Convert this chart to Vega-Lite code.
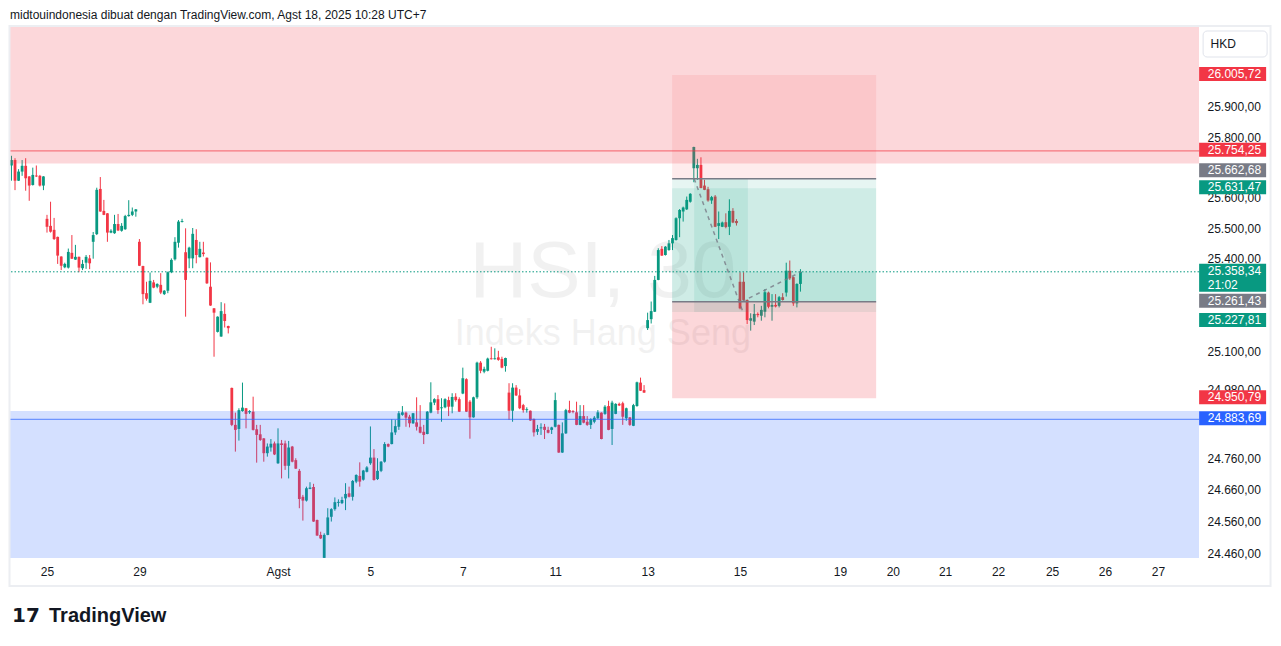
{
  "$schema": "https://vega.github.io/schema/vega-lite/v6.json",
  "width": 1189,
  "height": 531,
  "autosize": {"type": "none"},
  "padding": {"left": 10, "top": 27, "right": 82, "bottom": 88},
  "background": "#ffffff",
  "config": {
    "view": {"stroke": null},
    "font": "Liberation Sans",
    "axis": {"domain": false, "ticks": false, "grid": false, "labelFont": "Liberation Sans", "labelFontSize": 12, "labelColor": "#131722"},
    "locale": {"number": {"decimal": ",", "thousands": ".", "grouping": [3], "currency": ["", ""]}}
  },
  "resolve": {"scale": {"color": "independent", "fill": "independent"}},
  "datasets": {
    "candles": [
      {"t":-10,"o":25706,"h":25738,"l":25656,"c":25724},{"t":-9,"o":25724,"h":25730,"l":25625,"c":25656},{"t":-8,"o":25656,"h":25694,"l":25655,"c":25686},{"t":-7,"o":25686,"h":25724,"l":25672,"c":25705},{"t":-6,"o":25705,"h":25730,"l":25623,"c":25664},{"t":-5,"o":25670,"h":25671,"l":25590,"c":25640},{"t":-4,"o":25642,"h":25699,"l":25640,"c":25675},{"t":-3,"o":25673,"h":25706,"l":25668,"c":25670},{"t":-2,"o":25672,"h":25675,"l":25637,"c":25640},{"t":-1,"o":25640,"h":25671,"l":25625,"c":25670},
      {"t":0,"o":25531,"h":25544,"l":25486,"c":25505},{"t":1,"o":25508,"h":25587,"l":25486,"c":25489},{"t":2,"o":25495,"h":25534,"l":25462,"c":25465},{"t":3,"o":25472,"h":25473,"l":25384,"c":25411},{"t":4,"o":25408,"h":25409,"l":25364,"c":25378},{"t":5,"o":25373,"h":25388,"l":25370,"c":25384},{"t":6,"o":25372,"h":25434,"l":25369,"c":25423},{"t":7,"o":25420,"h":25478,"l":25400,"c":25401},{"t":8,"o":25398,"h":25446,"l":25397,"c":25407},{"t":9,"o":25407,"h":25408,"l":25357,"c":25372},{"t":10,"o":25370,"h":25397,"l":25364,"c":25384},{"t":11,"o":25388,"h":25413,"l":25368,"c":25407},{"t":12,"o":25402,"h":25413,"l":25367,"c":25386},
      {"t":13,"o":25456,"h":25488,"l":25401,"c":25478},{"t":14,"o":25481,"h":25633,"l":25478,"c":25626},{"t":15,"o":25629,"h":25668,"l":25554,"c":25555},{"t":16,"o":25557,"h":25593,"l":25543,"c":25544},{"t":17,"o":25549,"h":25550,"l":25456,"c":25486},{"t":18,"o":25486,"h":25497,"l":25484,"c":25492},{"t":19,"o":25484,"h":25544,"l":25482,"c":25514},{"t":20,"o":25514,"h":25547,"l":25491,"c":25493},{"t":21,"o":25492,"h":25517,"l":25489,"c":25508},{"t":22,"o":25497,"h":25544,"l":25495,"c":25540},{"t":23,"o":25540,"h":25592,"l":25538,"c":25544},{"t":24,"o":25544,"h":25568,"l":25540,"c":25555},{"t":25,"o":25555,"h":25563,"l":25538,"c":25562},
      {"t":26,"o":25456,"h":25465,"l":25377,"c":25378},{"t":27,"o":25377,"h":25378,"l":25253,"c":25286},{"t":28,"o":25289,"h":25326,"l":25265,"c":25271},{"t":29,"o":25258,"h":25356,"l":25257,"c":25329},{"t":30,"o":25324,"h":25332,"l":25305,"c":25307},{"t":31,"o":25310,"h":25321,"l":25305,"c":25319},{"t":32,"o":25316,"h":25354,"l":25286,"c":25291},{"t":33,"o":25286,"h":25299,"l":25283,"c":25297},{"t":34,"o":25297,"h":25359,"l":25289,"c":25357},{"t":35,"o":25357,"h":25402,"l":25354,"c":25397},{"t":36,"o":25399,"h":25471,"l":25395,"c":25456},{"t":37,"o":25453,"h":25527,"l":25437,"c":25522},{"t":38,"o":25521,"h":25531,"l":25519,"c":25524},
      {"t":39,"o":25422,"h":25500,"l":25213,"c":25332},{"t":40,"o":25402,"h":25440,"l":25370,"c":25437},{"t":41,"o":25402,"h":25501,"l":25370,"c":25482},{"t":42,"o":25462,"h":25497,"l":25386,"c":25413},{"t":43,"o":25406,"h":25456,"l":25405,"c":25433},{"t":44,"o":25421,"h":25456,"l":25408,"c":25416},{"t":45,"o":25404,"h":25405,"l":25319,"c":25321},{"t":46,"o":25310,"h":25389,"l":25248,"c":25249},{"t":47,"o":25240,"h":25241,"l":25084,"c":25226},{"t":48,"o":25164,"h":25214,"l":25162,"c":25213},{"t":49,"o":25149,"h":25260,"l":25148,"c":25231},{"t":50,"o":25222,"h":25256,"l":25178,"c":25199},{"t":51,"o":25183,"h":25184,"l":25159,"c":25176},
      {"t":52,"o":24984,"h":24985,"l":24862,"c":24866},{"t":53,"o":24866,"h":24905,"l":24781,"c":24850},{"t":54,"o":24853,"h":24919,"l":24816,"c":24913},{"t":55,"o":24910,"h":25001,"l":24908,"c":24921},{"t":56,"o":24919,"h":24920,"l":24855,"c":24901},{"t":57,"o":24906,"h":24913,"l":24901,"c":24910},{"t":58,"o":24908,"h":24956,"l":24848,"c":24850},{"t":59,"o":24852,"h":24866,"l":24746,"c":24834},{"t":60,"o":24836,"h":24866,"l":24815,"c":24818},{"t":61,"o":24823,"h":24824,"l":24749,"c":24776},{"t":62,"o":24776,"h":24807,"l":24765,"c":24797},{"t":63,"o":24794,"h":24821,"l":24781,"c":24806},{"t":64,"o":24807,"h":24813,"l":24770,"c":24772},
      {"t":65,"o":24744,"h":24855,"l":24742,"c":24807},{"t":66,"o":24807,"h":24818,"l":24696,"c":24802},{"t":67,"o":24807,"h":24816,"l":24723,"c":24736},{"t":68,"o":24736,"h":24815,"l":24696,"c":24794},{"t":69,"o":24797,"h":24799,"l":24747,"c":24749},{"t":70,"o":24754,"h":24760,"l":24726,"c":24727},{"t":71,"o":24720,"h":24726,"l":24602,"c":24631},{"t":72,"o":24638,"h":24644,"l":24563,"c":24626},{"t":73,"o":24626,"h":24670,"l":24623,"c":24665},{"t":74,"o":24663,"h":24684,"l":24662,"c":24667},{"t":75,"o":24669,"h":24679,"l":24559,"c":24560},{"t":76,"o":24565,"h":24566,"l":24515,"c":24516},{"t":77,"o":24518,"h":24528,"l":24505,"c":24507},
      {"t":78,"o":24446,"h":24523,"l":24446,"c":24518},{"t":79,"o":24518,"h":24602,"l":24517,"c":24573},{"t":80,"o":24575,"h":24602,"l":24560,"c":24599},{"t":81,"o":24599,"h":24636,"l":24594,"c":24621},{"t":82,"o":24619,"h":24630,"l":24607,"c":24622},{"t":83,"o":24618,"h":24638,"l":24615,"c":24628},{"t":84,"o":24633,"h":24681,"l":24596,"c":24647},{"t":85,"o":24649,"h":24670,"l":24636,"c":24638},{"t":86,"o":24638,"h":24691,"l":24626,"c":24688},{"t":87,"o":24686,"h":24709,"l":24681,"c":24707},{"t":88,"o":24704,"h":24747,"l":24670,"c":24686},{"t":89,"o":24692,"h":24723,"l":24689,"c":24721},{"t":90,"o":24717,"h":24735,"l":24715,"c":24731},
      {"t":91,"o":24744,"h":24861,"l":24739,"c":24762},{"t":92,"o":24762,"h":24789,"l":24689,"c":24691},{"t":93,"o":24694,"h":24760,"l":24691,"c":24720},{"t":94,"o":24720,"h":24751,"l":24716,"c":24749},{"t":95,"o":24749,"h":24811,"l":24746,"c":24805},{"t":96,"o":24805,"h":24807,"l":24795,"c":24797},{"t":97,"o":24805,"h":24884,"l":24804,"c":24842},{"t":98,"o":24842,"h":24882,"l":24834,"c":24862},{"t":99,"o":24860,"h":24910,"l":24850,"c":24903},{"t":100,"o":24898,"h":24926,"l":24895,"c":24906},{"t":101,"o":24905,"h":24908,"l":24860,"c":24889},{"t":102,"o":24892,"h":24898,"l":24858,"c":24871},{"t":103,"o":24871,"h":24904,"l":24869,"c":24903},
      {"t":104,"o":24874,"h":24954,"l":24848,"c":24860},{"t":105,"o":24860,"h":24929,"l":24839,"c":24841},{"t":106,"o":24844,"h":24866,"l":24805,"c":24834},{"t":107,"o":24837,"h":24910,"l":24836,"c":24908},{"t":108,"o":24905,"h":25002,"l":24903,"c":24938},{"t":109,"o":24937,"h":24951,"l":24929,"c":24948},{"t":110,"o":24948,"h":24961,"l":24901,"c":24913},{"t":111,"o":24919,"h":24951,"l":24876,"c":24922},{"t":112,"o":24922,"h":24951,"l":24919,"c":24948},{"t":113,"o":24945,"h":24956,"l":24894,"c":24924},{"t":114,"o":24924,"h":24967,"l":24903,"c":24955},{"t":115,"o":24956,"h":24967,"l":24940,"c":24945},{"t":116,"o":24948,"h":24954,"l":24907,"c":24908},
      {"t":117,"o":24966,"h":25049,"l":24964,"c":25015},{"t":118,"o":25012,"h":25015,"l":24907,"c":24908},{"t":119,"o":24940,"h":24945,"l":24822,"c":24890},{"t":120,"o":24890,"h":24956,"l":24889,"c":24954},{"t":121,"o":24954,"h":25068,"l":24949,"c":25065},{"t":122,"o":25065,"h":25070,"l":25031,"c":25039},{"t":123,"o":25036,"h":25052,"l":25031,"c":25045},{"t":124,"o":25039,"h":25081,"l":25037,"c":25078},{"t":125,"o":25079,"h":25116,"l":25075,"c":25076},{"t":126,"o":25076,"h":25111,"l":25075,"c":25079},{"t":127,"o":25082,"h":25103,"l":25071,"c":25074},{"t":128,"o":25077,"h":25084,"l":25047,"c":25049},{"t":129,"o":25054,"h":25081,"l":25036,"c":25080},
      {"t":130,"o":24969,"h":24999,"l":24882,"c":24911},{"t":131,"o":24911,"h":24999,"l":24876,"c":24985},{"t":132,"o":24985,"h":24993,"l":24958,"c":24960},{"t":133,"o":24960,"h":24980,"l":24916,"c":24919},{"t":134,"o":24929,"h":24933,"l":24905,"c":24913},{"t":135,"o":24913,"h":24922,"l":24905,"c":24916},{"t":136,"o":24911,"h":24912,"l":24879,"c":24880},{"t":137,"o":24885,"h":24886,"l":24829,"c":24842},{"t":138,"o":24844,"h":24866,"l":24834,"c":24853},{"t":139,"o":24855,"h":24871,"l":24834,"c":24858},{"t":140,"o":24860,"h":24869,"l":24821,"c":24850},{"t":141,"o":24850,"h":24860,"l":24839,"c":24841},{"t":142,"o":24850,"h":24860,"l":24837,"c":24858},
      {"t":143,"o":24860,"h":24969,"l":24858,"c":24945},{"t":144,"o":24866,"h":24867,"l":24777,"c":24778},{"t":145,"o":24778,"h":24874,"l":24777,"c":24839},{"t":146,"o":24839,"h":24917,"l":24837,"c":24913},{"t":147,"o":24913,"h":24943,"l":24903,"c":24905},{"t":148,"o":24910,"h":24913,"l":24903,"c":24907},{"t":149,"o":24906,"h":24940,"l":24865,"c":24866},{"t":150,"o":24866,"h":24929,"l":24865,"c":24894},{"t":151,"o":24894,"h":24929,"l":24871,"c":24873},{"t":152,"o":24876,"h":24894,"l":24863,"c":24866},{"t":153,"o":24866,"h":24887,"l":24853,"c":24884},{"t":154,"o":24876,"h":24894,"l":24871,"c":24889},{"t":155,"o":24887,"h":24913,"l":24885,"c":24906},
      {"t":156,"o":24905,"h":24906,"l":24820,"c":24821},{"t":157,"o":24901,"h":24929,"l":24898,"c":24924},{"t":158,"o":24926,"h":24943,"l":24849,"c":24850},{"t":159,"o":24853,"h":24943,"l":24802,"c":24937},{"t":160,"o":24901,"h":24935,"l":24900,"c":24933},{"t":161,"o":24933,"h":24937,"l":24926,"c":24928},{"t":162,"o":24935,"h":24940,"l":24866,"c":24892},{"t":163,"o":24887,"h":24921,"l":24879,"c":24919},{"t":164,"o":24890,"h":24891,"l":24863,"c":24866},{"t":165,"o":24863,"h":24933,"l":24862,"c":24929},{"t":166,"o":24926,"h":25004,"l":24924,"c":25002},{"t":167,"o":25001,"h":25017,"l":24974,"c":24975},{"t":168,"o":24977,"h":24993,"l":24968,"c":24969},
      {"t":169,"o":25176,"h":25226,"l":25170,"c":25202},{"t":170,"o":25205,"h":25262,"l":25191,"c":25231},{"t":171,"o":25229,"h":25345,"l":25228,"c":25332},{"t":172,"o":25332,"h":25435,"l":25331,"c":25429},{"t":173,"o":25433,"h":25442,"l":25410,"c":25411},{"t":174,"o":25413,"h":25442,"l":25411,"c":25440},{"t":175,"o":25429,"h":25462,"l":25427,"c":25451},{"t":176,"o":25451,"h":25478,"l":25429,"c":25468},{"t":177,"o":25462,"h":25536,"l":25460,"c":25533},{"t":178,"o":25533,"h":25563,"l":25471,"c":25560},{"t":179,"o":25555,"h":25571,"l":25522,"c":25568},{"t":180,"o":25562,"h":25604,"l":25560,"c":25593},{"t":181,"o":25587,"h":25615,"l":25584,"c":25613},
      {"t":182,"o":25697,"h":25768,"l":25651,"c":25767},{"t":183,"o":25697,"h":25728,"l":25659,"c":25708},{"t":184,"o":25708,"h":25733,"l":25631,"c":25632},{"t":185,"o":25640,"h":25659,"l":25625,"c":25626},{"t":186,"o":25628,"h":25636,"l":25587,"c":25591},{"t":187,"o":25591,"h":25606,"l":25580,"c":25602},{"t":188,"o":25604,"h":25609,"l":25504,"c":25505},{"t":189,"o":25508,"h":25555,"l":25465,"c":25517},{"t":190,"o":25505,"h":25522,"l":25504,"c":25519},{"t":191,"o":25520,"h":25549,"l":25500,"c":25504},{"t":192,"o":25505,"h":25595,"l":25478,"c":25557},{"t":193,"o":25557,"h":25566,"l":25517,"c":25519},{"t":194,"o":25524,"h":25530,"l":25509,"c":25517},
      {"t":195,"o":25326,"h":25357,"l":25237,"c":25240},{"t":196,"o":25326,"h":25357,"l":25265,"c":25267},{"t":197,"o":25267,"h":25269,"l":25189,"c":25202},{"t":198,"o":25200,"h":25224,"l":25168,"c":25208},{"t":199,"o":25197,"h":25254,"l":25186,"c":25222},{"t":200,"o":25222,"h":25227,"l":25211,"c":25218},{"t":201,"o":25216,"h":25248,"l":25200,"c":25235},{"t":202,"o":25229,"h":25302,"l":25211,"c":25292},{"t":203,"o":25291,"h":25294,"l":25240,"c":25245},{"t":204,"o":25245,"h":25286,"l":25200,"c":25251},{"t":205,"o":25251,"h":25286,"l":25243,"c":25246},{"t":206,"o":25248,"h":25280,"l":25243,"c":25276},{"t":207,"o":25276,"h":25289,"l":25265,"c":25267},
      {"t":208,"o":25291,"h":25388,"l":25278,"c":25362},{"t":209,"o":25362,"h":25395,"l":25332,"c":25337},{"t":210,"o":25341,"h":25343,"l":25248,"c":25256},{"t":211,"o":25256,"h":25321,"l":25243,"c":25319},{"t":212,"o":25319,"h":25367,"l":25294,"c":25358.34}
    ],
    "zones": [
      {"k": "resistance", "p1": 26166.1, "p2": 25712.2},
      {"k": "support", "p1": 24910.2, "p2": 24445.6}
    ],
    "levels": [
      {"k": "resistance", "p": 25754.25},
      {"k": "support", "p": 24883.69}
    ],
    "position": [
      {"k": "A stop", "t1": 175.9, "t2": 233.3, "p1": 26005.72, "p2": 25662.68},
      {"k": "A target", "t1": 175.9, "t2": 233.3, "p1": 25662.68, "p2": 25227.81},
      {"k": "B target", "t1": 175.9, "t2": 233.3, "p1": 25631.47, "p2": 25261.43},
      {"k": "A run", "t1": 182.1, "t2": 197.2, "p1": 25662.68, "p2": 25227.81},
      {"k": "B run", "t1": 197.2, "t2": 233.3, "p1": 25358.34, "p2": 25261.43}
    ],
    "positionStop": [
      {"k": "B stop", "t1": 175.9, "t2": 233.3, "p1": 25261.43, "p2": 24950.79}
    ],
    "entries": [
      {"t1": 175.9, "t2": 233.3, "p": 25662.68},
      {"t1": 175.9, "t2": 233.3, "p": 25261.43}
    ],
    "paths": [
      {"g": "A", "t": 182.1, "p": 25662.68},
      {"g": "A", "t": 195.7, "p": 25232},
      {"g": "B", "t": 195.5, "p": 25261.43},
      {"g": "B", "t": 212.2, "p": 25358.34}
    ],
    "tags": [
      {"p": 26005.72, "k": "stop"},
      {"p": 25754.25, "k": "level"},
      {"p": 25631.47, "k": "target"},
      {"p": 25261.43, "k": "entry"},
      {"p": 24950.79, "k": "stop"},
      {"p": 24883.69, "k": "support"}
    ],
    "tagUp": [{"p": 25662.68, "k": "entry"}],
    "tagDown": [{"p": 25227.81, "k": "target"}],
    "last": [{"p": 25358.34, "time": "21:02"}]
  },
  "layer": [
    {
      "data": {"values": [{"label": "HSI, 30"}]},
      "mark": {"type": "text", "fontSize": 80, "align": "center", "baseline": "alphabetic", "color": "#000000", "opacity": 0.05, "font": "Liberation Sans"},
      "encoding": {
        "x": {"datum": 156.4, "type": "quantitative", "title": null, "scale": {"domain": [-10.41, 324.14], "nice": false, "zero": false, "padding": 0}},
        "y": {"datum": 25276.6, "type": "quantitative", "title": null, "scale": {"type": "log", "domain": [24445.6, 26166.1], "nice": false, "padding": 0}},
        "text": {"field": "label"}
      }
    },
    {
      "data": {"values": [{"label": "Indeks Hang Seng"}]},
      "mark": {"type": "text", "fontSize": 36, "align": "center", "baseline": "alphabetic", "color": "#000000", "opacity": 0.05, "font": "Liberation Sans"},
      "encoding": {
        "x": {"datum": 156.4, "type": "quantitative", "title": null, "scale": {"domain": [-10.41, 324.14], "nice": false, "zero": false, "padding": 0}},
        "y": {"datum": 25121.7, "type": "quantitative", "title": null, "scale": {"type": "log", "domain": [24445.6, 26166.1], "nice": false, "padding": 0}},
        "text": {"field": "label"}
      }
    },
    {
      "data": {"name": "candles"},
      "mark": {"type": "rule", "strokeWidth": 1},
      "encoding": {
        "x": {
          "field": "t", "type": "quantitative", "title": null,
          "scale": {"domain": [-10.41, 324.14], "nice": false, "zero": false, "padding": 0},
          "axis": {
            "title": null, "domain": false, "ticks": false, "grid": false,
            "values": [0, 26, 65, 91, 117, 143, 169, 195, 223.1, 238, 252.7, 267.6, 282.8, 297.7, 312.6],
            "labelExpr": "['25','29','Agst','5','7','11','13','15','19','20','21','22','25','26','27'][indexof([0,26,65,91,117,143,169,195,223.1,238,252.7,267.6,282.8,297.7,312.6], datum.value)]",
            "labelFontSize": 12, "labelColor": "#131722", "labelPadding": 8, "labelBaseline": "top",
            "labelFlush": false, "labelOverlap": false, "labelFont": "Liberation Sans"
          }
        },
        "y": {
          "field": "l", "type": "quantitative", "title": null,
          "scale": {"type": "log", "domain": [24445.6, 26166.1], "nice": false, "padding": 0},
          "axis": {
            "title": null, "orient": "right", "domain": false, "ticks": false, "grid": false,
            "values": [24460, 24560, 24660, 24760, 24980, 25100, 25400, 25500, 25600, 25800, 25900],
            "format": ",.2f", "labelFontSize": 12, "labelColor": "#131722", "labelPadding": 8,
            "labelAlign": "left", "labelBaseline": "middle", "labelOverlap": false, "labelFont": "Liberation Sans"
          }
        },
        "y2": {"field": "h"},
        "color": {"condition": {"test": "datum.c >= datum.o", "value": "#089981"}, "value": "#f23645"}
      }
    },
    {
      "data": {"name": "candles"},
      "mark": {"type": "bar", "width": 2.8},
      "encoding": {
        "x": {"field": "t", "type": "quantitative", "title": null, "scale": {"domain": [-10.41, 324.14], "nice": false, "zero": false, "padding": 0}},
        "y": {"field": "o", "type": "quantitative", "title": null, "scale": {"type": "log", "domain": [24445.6, 26166.1], "nice": false, "padding": 0}},
        "y2": {"field": "c"},
        "color": {"condition": {"test": "datum.c >= datum.o", "value": "#089981"}, "value": "#f23645"}
      }
    },
    {
      "data": {"name": "zones"},
      "mark": {"type": "rect", "opacity": 0.2},
      "encoding": {
        "x": {"datum": -10.41, "type": "quantitative", "title": null, "scale": {"domain": [-10.41, 324.14], "nice": false, "zero": false, "padding": 0}},
        "x2": {"datum": 324.14},
        "y": {"field": "p1", "type": "quantitative", "title": null, "scale": {"type": "log", "domain": [24445.6, 26166.1], "nice": false, "padding": 0}},
        "y2": {"field": "p2"},
        "color": {"field": "k", "type": "nominal", "scale": {"domain": ["resistance", "support"], "range": ["#f23645", "#2962ff"]}, "legend": null}
      }
    },
    {
      "data": {"name": "position"},
      "mark": {"type": "rect", "opacity": 0.1},
      "encoding": {
        "x": {"field": "t1", "type": "quantitative", "title": null, "scale": {"domain": [-10.41, 324.14], "nice": false, "zero": false, "padding": 0}},
        "x2": {"field": "t2"},
        "y": {"field": "p1", "type": "quantitative", "title": null, "scale": {"type": "log", "domain": [24445.6, 26166.1], "nice": false, "padding": 0}},
        "y2": {"field": "p2"},
        "color": {"condition": {"test": "indexof(datum.k, 'stop') >= 0", "value": "#f23645"}, "value": "#089981"}
      }
    },
    {
      "data": {"name": "positionStop"},
      "mark": {"type": "rect", "opacity": 0.2, "color": "#f23645"},
      "encoding": {
        "x": {"field": "t1", "type": "quantitative", "title": null, "scale": {"domain": [-10.41, 324.14], "nice": false, "zero": false, "padding": 0}},
        "x2": {"field": "t2"},
        "y": {"field": "p1", "type": "quantitative", "title": null, "scale": {"type": "log", "domain": [24445.6, 26166.1], "nice": false, "padding": 0}},
        "y2": {"field": "p2"}
      }
    },
    {
      "data": {"name": "levels"},
      "mark": {"type": "rule", "strokeWidth": 1.2, "opacity": 0.6},
      "encoding": {
        "y": {"field": "p", "type": "quantitative", "title": null, "scale": {"type": "log", "domain": [24445.6, 26166.1], "nice": false, "padding": 0}},
        "color": {"field": "k", "type": "nominal", "scale": {"domain": ["resistance", "support"], "range": ["#f23645", "#2962ff"]}, "legend": null}
      }
    },
    {
      "data": {"name": "entries"},
      "mark": {"type": "rule", "strokeWidth": 1.5, "color": "#787b86"},
      "encoding": {
        "x": {"field": "t1", "type": "quantitative", "title": null, "scale": {"domain": [-10.41, 324.14], "nice": false, "zero": false, "padding": 0}},
        "x2": {"field": "t2"},
        "y": {"field": "p", "type": "quantitative", "title": null, "scale": {"type": "log", "domain": [24445.6, 26166.1], "nice": false, "padding": 0}}
      }
    },
    {
      "data": {"name": "last"},
      "mark": {"type": "rule", "strokeWidth": 1, "color": "#089981", "strokeDash": [1.5, 2]},
      "encoding": {
        "y": {"field": "p", "type": "quantitative", "title": null, "scale": {"type": "log", "domain": [24445.6, 26166.1], "nice": false, "padding": 0}}
      }
    },
    {
      "data": {"name": "paths"},
      "mark": {"type": "line", "strokeWidth": 1.5, "color": "#787b86", "opacity": 0.8, "strokeDash": [4, 4]},
      "encoding": {
        "x": {"field": "t", "type": "quantitative", "title": null, "scale": {"domain": [-10.41, 324.14], "nice": false, "zero": false, "padding": 0}},
        "y": {"field": "p", "type": "quantitative", "title": null, "scale": {"type": "log", "domain": [24445.6, 26166.1], "nice": false, "padding": 0}},
        "detail": {"field": "g"}
      }
    },
    {
      "data": {"values": [{"k": "frame"}]},
      "mark": {"type": "rect", "fill": "transparent", "stroke": "#eceef2", "strokeWidth": 2},
      "encoding": {
        "x": {"datum": -10.55, "type": "quantitative", "title": null, "scale": {"domain": [-10.41, 324.14], "nice": false, "zero": false, "padding": 0}},
        "x2": {"datum": 344.26},
        "y": {"datum": 26169.5, "type": "quantitative", "title": null, "scale": {"type": "log", "domain": [24445.6, 26166.1], "nice": false, "padding": 0}},
        "y2": {"datum": 24358.0}
      }
    },
    {
      "data": {"values": [{"label": "midtouindonesia dibuat dengan TradingView.com, Agst 18, 2025 10:28 UTC+7"}]},
      "mark": {"type": "text", "align": "left", "baseline": "alphabetic", "fontSize": 12, "color": "#131722", "font": "Liberation Sans"},
      "encoding": {
        "x": {"datum": -10.41, "type": "quantitative", "title": null, "scale": {"domain": [-10.41, 324.14], "nice": false, "zero": false, "padding": 0}},
        "y": {"datum": 26194.6, "type": "quantitative", "title": null, "scale": {"type": "log", "domain": [24445.6, 26166.1], "nice": false, "padding": 0}},
        "text": {"field": "label"}
      }
    },
    {
      "data": {"values": [{"label": "HKD"}]},
      "mark": {"type": "rect", "fill": "#ffffff", "stroke": "#e0e3eb", "strokeWidth": 1, "cornerRadius": 4},
      "encoding": {
        "x": {"datum": 325.3, "type": "quantitative", "title": null, "scale": {"domain": [-10.41, 324.14], "nice": false, "zero": false, "padding": 0}},
        "x2": {"datum": 343.3},
        "y": {"datum": 26152.7, "type": "quantitative", "title": null, "scale": {"type": "log", "domain": [24445.6, 26166.1], "nice": false, "padding": 0}},
        "y2": {"datum": 26065.7}
      }
    },
    {
      "data": {"values": [{"label": "HKD"}]},
      "mark": {"type": "text", "align": "left", "baseline": "middle", "fontSize": 12, "color": "#131722", "font": "Liberation Sans"},
      "encoding": {
        "x": {"datum": 327.4, "type": "quantitative", "title": null, "scale": {"domain": [-10.41, 324.14], "nice": false, "zero": false, "padding": 0}},
        "y": {"datum": 26109, "type": "quantitative", "title": null, "scale": {"type": "log", "domain": [24445.6, 26166.1], "nice": false, "padding": 0}},
        "text": {"field": "label"}
      }
    },
    {
      "data": {"name": "tags"},
      "mark": {"type": "tick", "orient": "horizontal", "thickness": 14, "size": 67, "opacity": 1, "yOffset": -1},
      "encoding": {
        "x": {"datum": 333.6, "type": "quantitative", "title": null, "scale": {"domain": [-10.41, 324.14], "nice": false, "zero": false, "padding": 0}},
        "y": {"field": "p", "type": "quantitative", "title": null, "scale": {"type": "log", "domain": [24445.6, 26166.1], "nice": false, "padding": 0}},
        "color": {"field": "k", "type": "nominal", "scale": {"domain": ["stop", "level", "entry", "target", "support"], "range": ["#f23645", "#f23645", "#787b86", "#089981", "#2962ff"]}, "legend": null}
      }
    },
    {
      "data": {"name": "tags"},
      "mark": {"type": "text", "align": "left", "baseline": "middle", "fontSize": 12, "color": "#ffffff", "font": "Liberation Sans", "yOffset": -1},
      "encoding": {
        "x": {"datum": 326.6, "type": "quantitative", "title": null, "scale": {"domain": [-10.41, 324.14], "nice": false, "zero": false, "padding": 0}},
        "y": {"field": "p", "type": "quantitative", "title": null, "scale": {"type": "log", "domain": [24445.6, 26166.1], "nice": false, "padding": 0}},
        "text": {"field": "p", "type": "quantitative", "format": ",.2f"}
      }
    },
    {
      "data": {"name": "tagUp"},
      "mark": {"type": "tick", "orient": "horizontal", "thickness": 14, "size": 67, "opacity": 1, "color": "#787b86", "yOffset": -8.5},
      "encoding": {
        "x": {"datum": 333.6, "type": "quantitative", "title": null, "scale": {"domain": [-10.41, 324.14], "nice": false, "zero": false, "padding": 0}},
        "y": {"field": "p", "type": "quantitative", "title": null, "scale": {"type": "log", "domain": [24445.6, 26166.1], "nice": false, "padding": 0}}
      }
    },
    {
      "data": {"name": "tagUp"},
      "mark": {"type": "text", "align": "left", "baseline": "middle", "fontSize": 12, "color": "#ffffff", "font": "Liberation Sans", "yOffset": -8.5},
      "encoding": {
        "x": {"datum": 326.6, "type": "quantitative", "title": null, "scale": {"domain": [-10.41, 324.14], "nice": false, "zero": false, "padding": 0}},
        "y": {"field": "p", "type": "quantitative", "title": null, "scale": {"type": "log", "domain": [24445.6, 26166.1], "nice": false, "padding": 0}},
        "text": {"field": "p", "type": "quantitative", "format": ",.2f"}
      }
    },
    {
      "data": {"name": "tagDown"},
      "mark": {"type": "tick", "orient": "horizontal", "thickness": 14, "size": 67, "opacity": 1, "color": "#089981", "yOffset": 8},
      "encoding": {
        "x": {"datum": 333.6, "type": "quantitative", "title": null, "scale": {"domain": [-10.41, 324.14], "nice": false, "zero": false, "padding": 0}},
        "y": {"field": "p", "type": "quantitative", "title": null, "scale": {"type": "log", "domain": [24445.6, 26166.1], "nice": false, "padding": 0}}
      }
    },
    {
      "data": {"name": "tagDown"},
      "mark": {"type": "text", "align": "left", "baseline": "middle", "fontSize": 12, "color": "#ffffff", "font": "Liberation Sans", "yOffset": 8},
      "encoding": {
        "x": {"datum": 326.6, "type": "quantitative", "title": null, "scale": {"domain": [-10.41, 324.14], "nice": false, "zero": false, "padding": 0}},
        "y": {"field": "p", "type": "quantitative", "title": null, "scale": {"type": "log", "domain": [24445.6, 26166.1], "nice": false, "padding": 0}},
        "text": {"field": "p", "type": "quantitative", "format": ",.2f"}
      }
    },
    {
      "data": {"name": "last"},
      "mark": {"type": "tick", "orient": "horizontal", "thickness": 28, "size": 67, "opacity": 1, "color": "#089981", "yOffset": 6},
      "encoding": {
        "x": {"datum": 333.6, "type": "quantitative", "title": null, "scale": {"domain": [-10.41, 324.14], "nice": false, "zero": false, "padding": 0}},
        "y": {"field": "p", "type": "quantitative", "title": null, "scale": {"type": "log", "domain": [24445.6, 26166.1], "nice": false, "padding": 0}}
      }
    },
    {
      "data": {"name": "last"},
      "mark": {"type": "text", "align": "left", "baseline": "middle", "fontSize": 12, "color": "#ffffff", "font": "Liberation Sans", "yOffset": -1},
      "encoding": {
        "x": {"datum": 326.6, "type": "quantitative", "title": null, "scale": {"domain": [-10.41, 324.14], "nice": false, "zero": false, "padding": 0}},
        "y": {"field": "p", "type": "quantitative", "title": null, "scale": {"type": "log", "domain": [24445.6, 26166.1], "nice": false, "padding": 0}},
        "text": {"field": "p", "type": "quantitative", "format": ",.2f"}
      }
    },
    {
      "data": {"name": "last"},
      "mark": {"type": "text", "align": "left", "baseline": "middle", "fontSize": 12, "color": "#ffffff", "font": "Liberation Sans", "yOffset": 13},
      "encoding": {
        "x": {"datum": 326.6, "type": "quantitative", "title": null, "scale": {"domain": [-10.41, 324.14], "nice": false, "zero": false, "padding": 0}},
        "y": {"field": "p", "type": "quantitative", "title": null, "scale": {"type": "log", "domain": [24445.6, 26166.1], "nice": false, "padding": 0}},
        "text": {"field": "time"}
      }
    },
    {
      "data": {"values": [{"label": "17"}]},
      "mark": {"type": "text", "align": "left", "baseline": "alphabetic", "fontSize": 20, "fontWeight": "bold", "color": "#131722", "font": "DejaVu Sans"},
      "encoding": {
        "x": {"datum": -9.85, "type": "quantitative", "title": null, "scale": {"domain": [-10.41, 324.14], "nice": false, "zero": false, "padding": 0}},
        "y": {"datum": 24246, "type": "quantitative", "title": null, "scale": {"type": "log", "domain": [24445.6, 26166.1], "nice": false, "padding": 0}},
        "text": {"field": "label"}
      }
    },
    {
      "data": {"values": [{"label": "TradingView"}]},
      "mark": {"type": "text", "align": "left", "baseline": "alphabetic", "fontSize": 20, "fontWeight": "bold", "color": "#131722", "font": "Liberation Sans"},
      "encoding": {
        "x": {"datum": 0.56, "type": "quantitative", "title": null, "scale": {"domain": [-10.41, 324.14], "nice": false, "zero": false, "padding": 0}},
        "y": {"datum": 24246, "type": "quantitative", "title": null, "scale": {"type": "log", "domain": [24445.6, 26166.1], "nice": false, "padding": 0}},
        "text": {"field": "label"}
      }
    }
  ]
}
